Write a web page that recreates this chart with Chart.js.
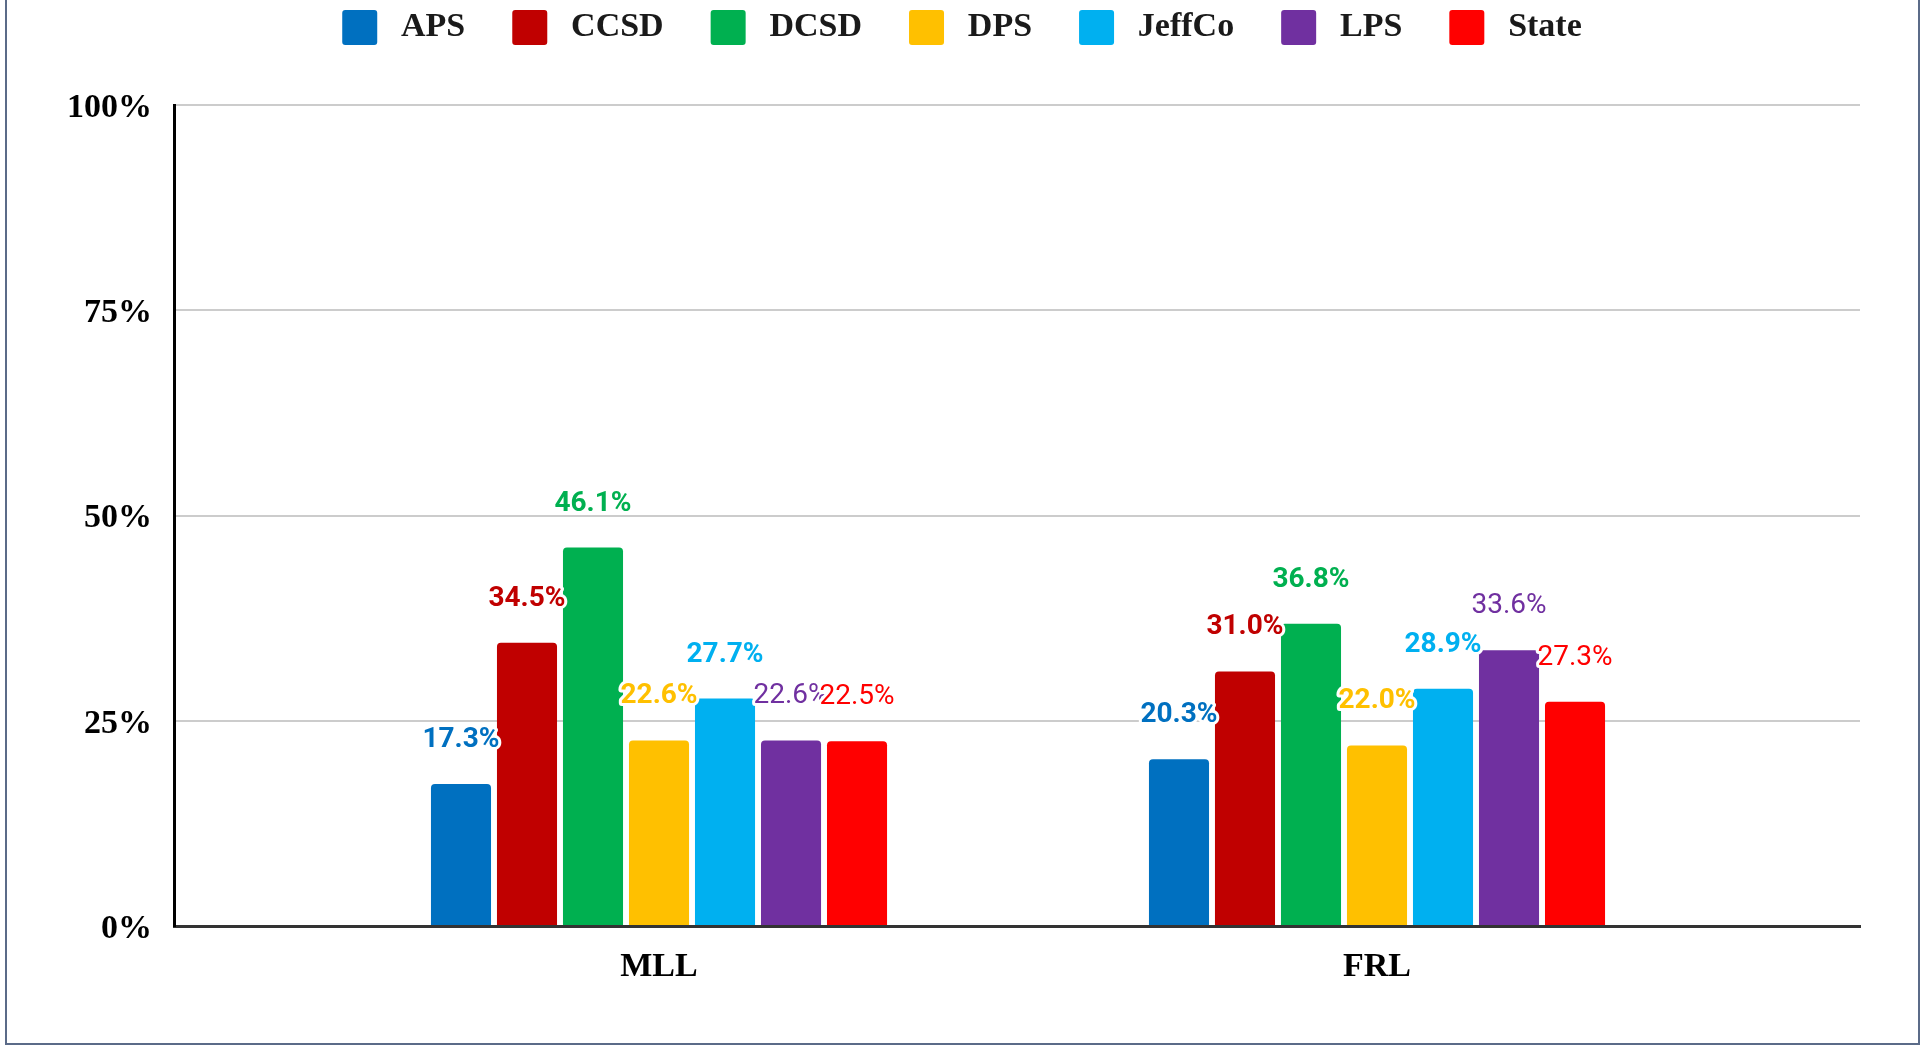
<!DOCTYPE html>
<html>
<head>
<meta charset="utf-8">
<script src="https://cdn.jsdelivr.net/npm/chart.js@4.4.1/dist/chart.umd.min.js"></script>
<style>
  html, body { margin: 0; padding: 0; background: #fff; overflow: hidden; }
  body { width: 1921px; height: 1045px; position: relative; }
  #chart_bar { position: absolute; left: 0; top: -37px; }
  #frame {
    position: absolute; left: 5px; top: -5px; width: 1915px; height: 1050px;
    box-sizing: border-box; border: 2px solid #5b6b88; pointer-events: none;
  }
</style>
</head>
<body>
<canvas id="chart_bar" width="1921" height="1082"></canvas>
<div id="frame"></div>
<script>
// categorias y series
var categories = ['MLL', 'FRL'];
var seriesNames = ['APS', 'CCSD', 'DCSD', 'DPS', 'JeffCo', 'LPS', 'State'];
var aps    = [17.3, 20.3];
var ccsd   = [34.5, 31.0];
var dcsd   = [46.1, 36.8];
var dps    = [22.6, 22.0];
var jeffco = [27.7, 28.9];
var lps    = [22.6, 33.6];
var state  = [22.5, 27.3];
var yTicks = [0, 25, 50, 75, 100];

var seriesValues = [aps, ccsd, dcsd, dps, jeffco, lps, state];
var colores = ['#0070C0', '#C00000', '#00B050', '#FFC000', '#00B0F0', '#7030A0', '#FF0000'];
var labelWeights = ['bold', 'bold', 'bold', 'bold', 'bold', 'normal', 'normal'];

var serifFont = { family: '"Liberation Serif", "Times New Roman", serif', size: 34, weight: 'bold' };

var datasets = [];
var $each = function(arr, fn){ for (var i = 0; i < arr.length; i++) fn(i, arr[i]); };
$each(seriesNames, function(i, nombre){
	var puntos = [];
	$each(seriesValues[i], function(j, valor){
		puntos.push({ x: j, y: valor });
	});
	datasets.push({
		label: nombre,
		data: puntos,
		backgroundColor: colores[i],
		borderWidth: 0,
		borderRadius: 4,
		borderSkipped: 'start',
		categoryPercentage: 0.6435,
		barPercentage: 0.91
	});
});

// etiquetas de valor encima de cada barra
var valueLabels = {
	id: 'valueLabels',
	afterDatasetsDraw: function(chart){
		var ctx = chart.ctx;
		chart.data.datasets.forEach(function(ds, i){
			var meta = chart.getDatasetMeta(i);
			ctx.save();
			ctx.font = labelWeights[i] + ' 28px Roboto';
			ctx.textAlign = 'center';
			ctx.textBaseline = 'alphabetic';
			ctx.lineJoin = 'round';
			ctx.lineWidth = 6;
			ctx.strokeStyle = '#ffffff';
			ctx.fillStyle = ds.backgroundColor;
			meta.data.forEach(function(bar, j){
				var txt = ds.data[j].y.toFixed(1) + '%';
				ctx.strokeText(txt, bar.x, bar.y - 37);
				ctx.fillText(txt, bar.x, bar.y - 37);
			});
			ctx.restore();
		});
	}
};

var defaultLabels = Chart.defaults.plugins.legend.labels.generateLabels;

var datos = {
	type: 'bar',
	data: { datasets: datasets },
	options: {
		responsive: false,
		animation: false,
		devicePixelRatio: 1,
		layout: { padding: { left: 64, right: 61, top: 0, bottom: 0 } },
		plugins: {
			legend: {
				position: 'top',
				labels: {
					boxWidth: 35,
					boxHeight: 35,
					padding: 47,
					useBorderRadius: true,
					borderRadius: 3,
					color: '#1a1a1a',
					font: serifFont,
					// un espacio fino entre el cuadro y el texto
					generateLabels: function(chart){
						return defaultLabels(chart).map(function(item){
							item.text = '\u2009' + item.text;
							return item;
						});
					}
				}
			},
			// espacio entre la leyenda y el grafico
			title: {
				display: true,
				text: '',
				weight: 500,
				font: { size: 2, lineHeight: 1 },
				padding: { top: 0, bottom: 48 }
			},
			tooltip: { enabled: false }
		},
		scales: {
			x: {
				type: 'linear',
				min: -0.6755,
				max: 1.6727,
				offset: false,
				grid: { display: false },
				border: { color: '#333333', width: 3 },
				afterBuildTicks: function(scale){
					scale.ticks = categories.map(function(c, i){ return { value: i }; });
				},
				ticks: {
					autoSkip: false,
					maxRotation: 0,
					padding: 13,
					color: '#000',
					font: serifFont,
					callback: function(v){ return categories[v]; }
				},
				afterFit: function(scale){ scale.height = 119; }
			},
			y: {
				min: yTicks[0],
				max: yTicks[yTicks.length - 1],
				afterBuildTicks: function(scale){
					scale.ticks = yTicks.map(function(v){ return { value: v }; });
				},
				grid: { color: '#cccccc', lineWidth: 2, drawTicks: false },
				border: { color: '#000000', width: 3 },
				ticks: {
					padding: 22,
					labelOffset: 3,
					color: '#000',
					font: serifFont,
					callback: function(v){ return v + '%'; }
				},
				afterFit: function(scale){ scale.width = 110; }
			}
		}
	},
	plugins: [valueLabels]
};

var canvas = document.getElementById('chart_bar').getContext('2d');
window.barras = new Chart(canvas, datos);
</script>
</body>
</html>
